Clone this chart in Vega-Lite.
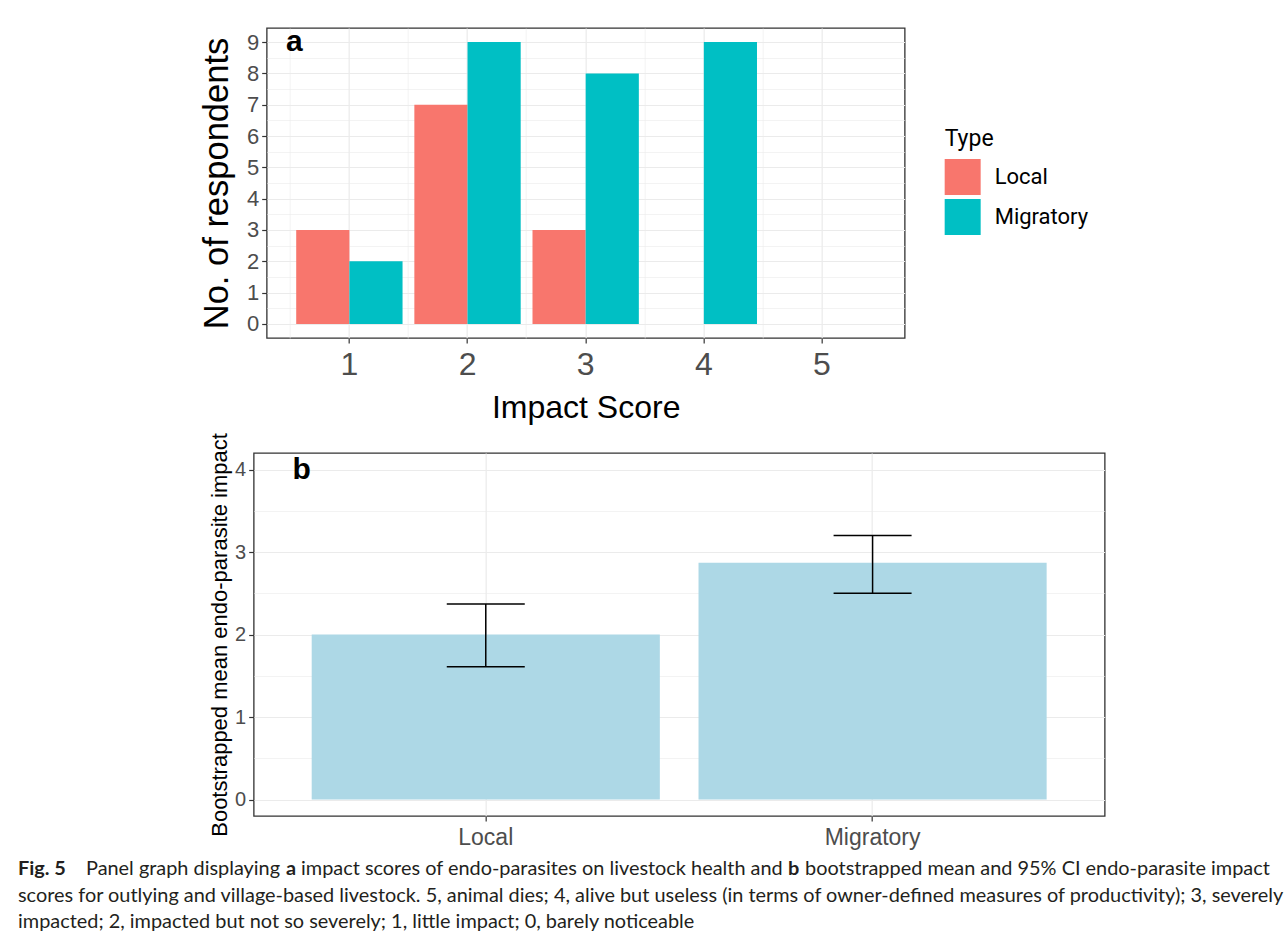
{
  "$schema": "https://vega.github.io/schema/vega-lite/v6.json",
  "padding": {"left": 18, "top": 26, "right": 0, "bottom": 0},
  "background": "white",
  "center": true,
  "spacing": 8,
  "resolve": {"legend": {"color": "independent"}},
  "config": {
    "view": {"stroke": "#333333", "strokeWidth": 1.3},
    "axis": {
      "labelFont": "Liberation Sans",
      "titleFont": "Liberation Sans",
      "labelColor": "#4D4D4D",
      "titleColor": "#000000",
      "titleFontWeight": "normal",
      "tickColor": "#333333",
      "tickWidth": 1.2,
      "tickSize": 5,
      "domain": false,
      "gridColor": "#EBEBEB",
      "labelOverlap": false
    }
  },
  "datasets": {
    "counts": [
      {"score": 1, "Type": "Local", "n": 3},
      {"score": 1, "Type": "Migratory", "n": 2},
      {"score": 2, "Type": "Local", "n": 7},
      {"score": 2, "Type": "Migratory", "n": 9},
      {"score": 3, "Type": "Local", "n": 3},
      {"score": 3, "Type": "Migratory", "n": 8},
      {"score": 4, "Type": "Migratory", "n": 9}
    ],
    "boot": [
      {"Type": "Local", "mean": 2.0, "lower": 1.61, "upper": 2.37},
      {"Type": "Migratory", "mean": 2.87, "lower": 2.5, "upper": 3.2}
    ],
    "caption": [
      {"line": 1, "seg": "fig", "text": "Fig. 5"},
      {"line": 1, "seg": "s1", "text": "Panel graph displaying"},
      {"line": 1, "seg": "ba", "text": "a"},
      {"line": 1, "seg": "s2", "text": "impact scores of endo-parasites on livestock health and"},
      {"line": 1, "seg": "bb", "text": "b"},
      {"line": 1, "seg": "s3", "text": "bootstrapped mean and 95% CI endo-parasite impact"},
      {"line": 2, "seg": "body", "text": "scores for outlying and village-based livestock. 5, animal dies; 4, alive but useless (in terms of owner-defined measures of productivity); 3, severely"},
      {"line": 3, "seg": "body", "text": "impacted; 2, impacted but not so severely; 1, little impact; 0, barely noticeable"}
    ]
  },
  "vconcat": [
    {
      "width": 638,
      "height": 310,
      "layer": [
        {
          "data": {"name": "counts"},
          "mark": {"type": "bar"},
          "encoding": {
            "x": {
              "field": "score",
              "type": "ordinal",
              "scale": {"domain": [1, 2, 3, 4, 5], "paddingInner": 0, "paddingOuter": 0.2},
              "axis": {
                "title": "Impact Score",
                "labelAngle": 0,
                "labelFontSize": 32,
                "titleFontSize": 32,
                "labelPadding": 6,
                "titlePadding": 12,
                "grid": true,
                "gridWidth": 1.2
              }
            },
            "xOffset": {
              "field": "Type",
              "type": "nominal",
              "scale": {"domain": ["Local", "Migratory"], "paddingInner": 0, "paddingOuter": 0.111}
            },
            "y": {
              "field": "n",
              "type": "quantitative",
              "title": "No. of respondents",
              "scale": {"domain": [-0.45, 9.45], "nice": false, "zero": false},
              "axis": {
                "titleFontSize": 34.5,
                "titlePadding": 12,
                "labelFontSize": 22,
                "labelPadding": 3,
                "labelOverlap": false,
                "grid": true,
                "values": [0, 0.5, 1, 1.5, 2, 2.5, 3, 3.5, 4, 4.5, 5, 5.5, 6, 6.5, 7, 7.5, 8, 8.5, 9],
                "labelExpr": "datum.value % 1 === 0 ? format(datum.value, 'd') : ''",
                "tickOpacity": {"condition": {"test": "datum.value % 1 !== 0", "value": 0}, "value": 1},
                "gridWidth": {"condition": {"test": "datum.value % 1 !== 0", "value": 0.6}, "value": 1.2}
              }
            },
            "color": {
              "field": "Type",
              "type": "nominal",
              "scale": {"domain": ["Local", "Migratory"], "range": ["#F8766D", "#00BFC4"]},
              "legend": {
                "title": "Type",
                "orient": "none",
                "legendX": 675,
                "legendY": 97,
                "padding": 3,
                "fillColor": "white",
                "titleFont": "Roboto",
                "titleFontSize": 23,
                "titleFontWeight": "normal",
                "titleColor": "#000000",
                "titlePadding": 8,
                "labelFont": "Roboto",
                "labelFontSize": 22,
                "labelColor": "#000000",
                "symbolType": "square",
                "symbolSize": 1296,
                "symbolStrokeWidth": 0,
                "symbolOpacity": 1,
                "rowPadding": 4,
                "labelOffset": 14
              }
            }
          }
        },
        {
          "data": {"values": [{"label": "a"}]},
          "mark": {"type": "text", "font": "Liberation Sans", "fontSize": 30, "fontWeight": "bold", "color": "#000000", "dx": -55, "baseline": "middle"},
          "encoding": {
            "x": {
              "datum": 1,
              "type": "ordinal",
              "axis": {"orient": "top", "labels": false, "ticks": false, "domain": false, "title": null, "grid": true, "bandPosition": 0, "gridWidth": 0.6}
            },
            "y": {
              "datum": 9,
              "type": "quantitative",
              "title": "No. of respondents",
              "axis": {
                "titleFontSize": 34.5,
                "titlePadding": 12,
                "labelFontSize": 22,
                "labelPadding": 3,
                "labelOverlap": false,
                "grid": true,
                "values": [0, 0.5, 1, 1.5, 2, 2.5, 3, 3.5, 4, 4.5, 5, 5.5, 6, 6.5, 7, 7.5, 8, 8.5, 9],
                "labelExpr": "datum.value % 1 === 0 ? format(datum.value, 'd') : ''",
                "tickOpacity": {"condition": {"test": "datum.value % 1 !== 0", "value": 0}, "value": 1},
                "gridWidth": {"condition": {"test": "datum.value % 1 !== 0", "value": 0.6}, "value": 1.2}
              }
            },
            "text": {"field": "label"}
          }
        }
      ],
      "resolve": {"axis": {"x": "independent"}}
    },
    {
      "width": 851,
      "height": 363,
      "encoding": {
        "x": {
          "field": "Type",
          "type": "nominal",
          "scale": {"paddingInner": 0.1, "paddingOuter": 0.15},
          "axis": {"title": null, "labelAngle": 0, "labelFontSize": 23, "labelPadding": 5, "grid": true, "gridWidth": 1.2}
        }
      },
      "layer": [
        {
          "data": {"name": "boot"},
          "mark": {"type": "bar", "color": "#ADD8E6"},
          "encoding": {
            "y": {
              "field": "mean",
              "type": "quantitative",
              "title": "Bootstrapped mean endo-parasite impact",
              "scale": {"domain": [-0.2, 4.2], "nice": false, "zero": false},
              "axis": {
                "titleFontSize": 22,
                "titlePadding": 3,
                "labelFontSize": 20,
                "labelPadding": 3,
                "labelOverlap": false,
                "grid": true,
                "values": [0, 0.5, 1, 1.5, 2, 2.5, 3, 3.5, 4],
                "labelExpr": "datum.value % 1 === 0 ? format(datum.value, 'd') : ''",
                "tickOpacity": {"condition": {"test": "datum.value % 1 !== 0", "value": 0}, "value": 1},
                "gridWidth": {"condition": {"test": "datum.value % 1 !== 0", "value": 0.6}, "value": 1.2}
              }
            }
          }
        },
        {
          "data": {"name": "boot"},
          "mark": {"type": "rule", "color": "#000000", "strokeWidth": 1.5},
          "encoding": {
            "y": {"field": "lower", "type": "quantitative", "title": "Bootstrapped mean endo-parasite impact"},
            "y2": {"field": "upper"}
          }
        },
        {
          "data": {"name": "boot"},
          "mark": {"type": "tick", "color": "#000000", "thickness": 1.5, "size": 78, "opacity": 1},
          "encoding": {"y": {"field": "upper", "type": "quantitative", "title": "Bootstrapped mean endo-parasite impact"}}
        },
        {
          "data": {"name": "boot"},
          "mark": {"type": "tick", "color": "#000000", "thickness": 1.5, "size": 78, "opacity": 1},
          "encoding": {"y": {"field": "lower", "type": "quantitative", "title": "Bootstrapped mean endo-parasite impact"}}
        },
        {
          "data": {"values": [{"label": "b"}]},
          "mark": {"type": "text", "font": "Liberation Sans", "fontSize": 30, "fontWeight": "bold", "color": "#000000", "dx": -184, "baseline": "middle"},
          "encoding": {
            "x": {"datum": "Local", "type": "nominal"},
            "y": {"datum": 4, "type": "quantitative", "title": "Bootstrapped mean endo-parasite impact"},
            "text": {"field": "label"}
          }
        }
      ]
    },
    {
      "width": 1323,
      "height": 75,
      "view": {"stroke": null, "fill": "white"},
      "data": {"name": "caption"},
      "encoding": {"y": {"field": "line", "type": "ordinal", "axis": null, "scale": {"padding": 0.389}}},
      "layer": [
        {
          "transform": [{"filter": "datum.seg === 'fig'"}],
          "mark": {"type": "text", "align": "left", "baseline": "middle", "font": "Lato", "fontSize": 19.9, "fontWeight": "bold", "color": "#231F20"},
          "encoding": {"x": {"value": 0}, "text": {"field": "text"}}
        },
        {
          "transform": [{"filter": "datum.seg === 's1'"}],
          "mark": {"type": "text", "align": "left", "baseline": "middle", "font": "Lato", "fontSize": 19.9, "color": "#231F20", "dx": 68},
          "encoding": {"x": {"value": 0}, "text": {"field": "text"}}
        },
        {
          "transform": [{"filter": "datum.seg === 'ba'"}],
          "mark": {"type": "text", "align": "left", "baseline": "middle", "font": "Lato", "fontSize": 19.9, "fontWeight": "bold", "color": "#231F20", "dx": 268},
          "encoding": {"x": {"value": 0}, "text": {"field": "text"}}
        },
        {
          "transform": [{"filter": "datum.seg === 's2'"}],
          "mark": {"type": "text", "align": "left", "baseline": "middle", "font": "Lato", "fontSize": 19.9, "color": "#231F20", "dx": 283},
          "encoding": {"x": {"value": 0}, "text": {"field": "text"}}
        },
        {
          "transform": [{"filter": "datum.seg === 'bb'"}],
          "mark": {"type": "text", "align": "left", "baseline": "middle", "font": "Lato", "fontSize": 19.9, "fontWeight": "bold", "color": "#231F20", "dx": 770},
          "encoding": {"x": {"value": 0}, "text": {"field": "text"}}
        },
        {
          "transform": [{"filter": "datum.seg === 's3'"}],
          "mark": {"type": "text", "align": "left", "baseline": "middle", "font": "Lato", "fontSize": 19.9, "color": "#231F20", "dx": 787},
          "encoding": {"x": {"value": 0}, "text": {"field": "text"}}
        },
        {
          "transform": [{"filter": "datum.seg === 'body'"}],
          "mark": {"type": "text", "align": "left", "baseline": "middle", "font": "Lato", "fontSize": 19.9, "color": "#231F20"},
          "encoding": {"x": {"value": 0}, "text": {"field": "text"}}
        }
      ]
    }
  ]
}
